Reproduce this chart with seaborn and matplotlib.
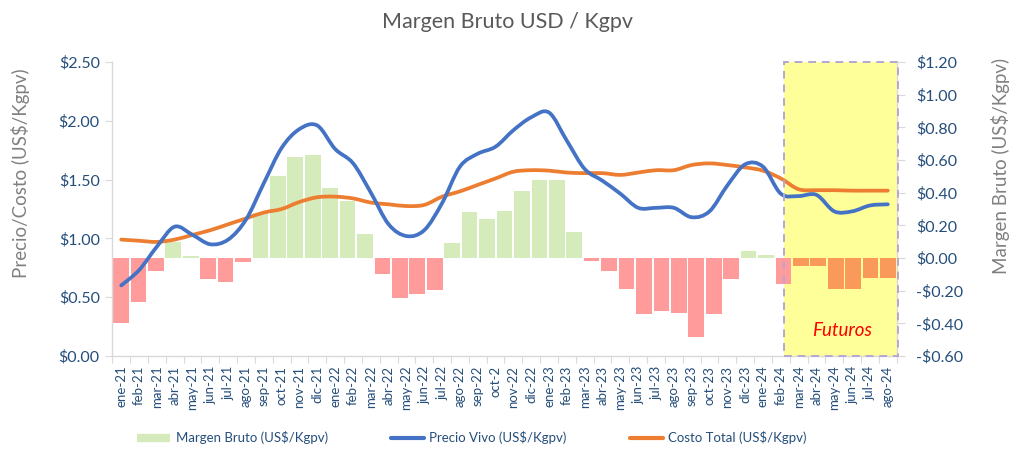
import numpy as np
import pandas as pd
import matplotlib
matplotlib.use("Agg")
import matplotlib.pyplot as plt
from matplotlib.path import Path
from matplotlib.patches import PathPatch, Rectangle
from matplotlib.lines import Line2D
from matplotlib.transforms import blended_transform_factory
import seaborn as sns

# ---------------- data ----------------
months = ["ene-21", "feb-21", "mar-21", "abr-21", "may-21", "jun-21", "jul-21", "ago-21",
          "sep-21", "oct-21", "nov-21", "dic-21", "ene-22", "feb-22", "mar-22", "abr-22",
          "may-22", "jun-22", "jul-22", "ago-22", "sep-22", "oct-2", "nov-22", "dic-22",
          "ene-23", "feb-23", "mar-23", "abr-23", "may-23", "jun-23", "jul-23", "ago-23",
          "sep-23", "oct-23", "nov-23", "dic-23", "ene-24", "feb-24", "mar-24", "abr-24",
          "may-24", "jun-24", "jul-24", "ago-24"]

precio_vivo = [0.60, 0.73, 0.93, 1.10, 1.03, 0.95, 0.99, 1.16, 1.47, 1.77, 1.93, 1.96,
               1.76, 1.64, 1.39, 1.12, 1.02, 1.07, 1.30, 1.61, 1.72, 1.78, 1.92, 2.03,
               2.07, 1.83, 1.59, 1.49, 1.38, 1.26, 1.26, 1.26, 1.18, 1.23, 1.45, 1.63,
               1.61, 1.38, 1.36, 1.37, 1.23, 1.23, 1.28, 1.29]

costo_total = [0.99, 0.98, 0.97, 0.99, 1.03, 1.07, 1.12, 1.17, 1.22, 1.25, 1.31, 1.35,
               1.355, 1.34, 1.305, 1.29, 1.275, 1.285, 1.355, 1.40, 1.455, 1.51, 1.567, 1.58,
               1.576, 1.56, 1.555, 1.555, 1.54, 1.56, 1.58, 1.58, 1.624, 1.638, 1.624, 1.604,
               1.576, 1.51, 1.418, 1.41, 1.41, 1.406, 1.406, 1.406]

margen_bruto = [-0.395, -0.267, -0.08, 0.10, 0.01, -0.13, -0.149, -0.023, 0.274, 0.505,
                0.618, 0.633, 0.43, 0.35, 0.145, -0.097, -0.246, -0.221, -0.198, 0.091,
                0.281, 0.239, 0.289, 0.409, 0.48, 0.48, 0.157, -0.016, -0.078, -0.19,
                -0.345, -0.322, -0.339, -0.482, -0.345, -0.13, 0.045, 0.02, -0.157, -0.052,
                -0.052, -0.19, -0.19, -0.12, -0.12]

first_futures_bar = 39
futures_box = (37.17, 43.55)   # span on the month axis

# ---------------- style ----------------
GREEN = "#D5EBBB"
PINK = "#FF9B9B"
ORANGE_BAR = "#F99A5B"
BLUE = "#4472C4"
ORANGE = "#ED7D31"
TICK_COLOR = "#254E7B"
GRAY_LABEL = "#808080"
SPINE = "#D9D9D9"

sns.set_theme(style="white")
plt.rcParams['font.family'] = ['Lato', 'DejaVu Sans']

fig = plt.figure(figsize=(10.1, 4.5), dpi=100)
pos = [0.1112, 0.2089, 0.8878 - 0.1112, 0.8622 - 0.2089]
ax_bar = fig.add_axes(pos)
ax = fig.add_axes(pos)
ax.set_zorder(ax_bar.get_zorder() + 1)
ax.patch.set_visible(False)

# ---------------- futures box fill (behind bars) ----------------
trans_box = blended_transform_factory(ax.transData, ax.transAxes)
ax_bar.add_patch(Rectangle((futures_box[0], 0), futures_box[1] - futures_box[0], 1,
                           transform=trans_box, facecolor="#FFFF99", edgecolor="none",
                           zorder=0, clip_on=False))

# ---------------- bars ----------------
bar_ids = [f"b{i}" for i in range(len(margen_bruto))]
colors = {}
for i, v in enumerate(margen_bruto):
    if i >= first_futures_bar:
        colors[bar_ids[i]] = ORANGE_BAR
    elif v >= 0:
        colors[bar_ids[i]] = GREEN
    else:
        colors[bar_ids[i]] = PINK
df_bar = pd.DataFrame({"id": bar_ids, "margen": margen_bruto})
sns.barplot(data=df_bar, x="id", y="margen", hue="id", palette=colors, legend=False,
            saturation=1, width=0.9, linewidth=0, ax=ax_bar, zorder=2)
ax_bar.set_xlim(-0.5, len(margen_bruto) - 0.5)
ax_bar.set_ylim(-0.6, 1.2)
ax_bar.set_xticks([])
ax_bar.set_xlabel("")
ax_bar.set_ylabel("")
ax_bar.yaxis.tick_right()
rticks = np.round(np.arange(-0.6, 1.21, 0.2), 2)
ax_bar.set_yticks(rticks)
ax_bar.set_yticklabels([("-$%.2f" % abs(t)) if t < 0 else ("$%.2f" % t) for t in rticks],
                       color=TICK_COLOR, fontsize=11.5)
ax_bar.tick_params(axis="y", which="major", direction="out", length=5.5, width=0.8,
                   color=SPINE, pad=8.5, right=True, left=False)
for s in ["left", "top", "bottom"]:
    ax_bar.spines[s].set_visible(False)
ax_bar.spines["right"].set_color(SPINE)
ax_bar.spines["right"].set_linewidth(1.0)


# ---------------- smoothed lines ----------------
def smooth_path(xs, ys):
    pts = np.column_stack([xs, ys]).astype(float)
    n = len(pts)
    verts = [pts[0]]
    codes = [Path.MOVETO]
    for i in range(n - 1):
        p0 = pts[max(i - 1, 0)]
        p1 = pts[i]
        p2 = pts[i + 1]
        p3 = pts[min(i + 2, n - 1)]
        c1 = p1 + (p2 - p0) / 6.0
        c2 = p2 - (p3 - p1) / 6.0
        verts += [c1, c2, p2]
        codes += [Path.CURVE4] * 3
    return Path(verts, codes)


xpos = np.arange(len(months))
for series, col in [(costo_total, ORANGE), (precio_vivo, BLUE)]:
    ax.add_patch(PathPatch(smooth_path(xpos, series), fill=False, edgecolor=col,
                           linewidth=2.7, capstyle="round", joinstyle="round", zorder=3))

ax.set_xlim(-0.5, len(months) - 0.5)
ax.set_ylim(0, 2.5)
ax.set_xticks(xpos)
ax.set_xticklabels(months, rotation=90, color=TICK_COLOR, fontsize=9.5)
ax.set_xticks(np.arange(-0.5, len(months), 1.0), minor=True)
ax.tick_params(axis="x", which="major", length=0, pad=7)
ax.tick_params(axis="x", which="minor", direction="out", length=5, width=0.8, color=SPINE,
               bottom=True)
lticks = np.arange(0, 2.51, 0.5)
ax.set_yticks(lticks)
ax.set_yticklabels(["$%.2f" % t for t in lticks], color=TICK_COLOR, fontsize=11.5)
ax.tick_params(axis="y", which="major", direction="out", length=5, width=0.8, color=SPINE,
               pad=4, left=True)
for s in ["top", "right"]:
    ax.spines[s].set_visible(False)
for s in ["left", "bottom"]:
    ax.spines[s].set_color(SPINE)
    ax.spines[s].set_linewidth(1.0)

# futures box border (on top) and label
ax.add_patch(Rectangle((futures_box[0], 0), futures_box[1] - futures_box[0], 1,
                       transform=trans_box, fill=False, edgecolor="#B7A6D3",
                       linewidth=1.4, linestyle=(0, (4, 3)), zorder=4, clip_on=False))
ax.text((futures_box[0] + futures_box[1]) / 2 + 0.1, 0.22, "Futuros", color="#FF0000",
        fontsize=13.5, style="italic", ha="center", va="center", zorder=5)

# ---------------- texts ----------------
fig.text(507 / 1010, 1 - 22 / 450, "Margen Bruto USD / Kgpv", ha="center", va="center",
         fontsize=15.5, color="#595959")
fig.text(21 / 1010, 1 - 173 / 450, "Precio/Costo (US$/Kgpv)", ha="center", va="center",
         rotation=90, fontsize=13.5, color=GRAY_LABEL)
fig.text(1000 / 1010, 1 - 166 / 450, "Margen Bruto (US$/Kgpv)", ha="center", va="center",
         rotation=90, fontsize=13.5, color=GRAY_LABEL)

handles = [
    Line2D([], [], color=GREEN, linewidth=6, solid_capstyle="butt"),
    Line2D([], [], color=BLUE, linewidth=3, solid_capstyle="round"),
    Line2D([], [], color=ORANGE, linewidth=3, solid_capstyle="round"),
]
labels = ["Margen Bruto (US$/Kgpv)", "Precio Vivo (US$/Kgpv)", "Costo Total (US$/Kgpv)"]
leg = fig.legend(handles, labels, loc="center", bbox_to_anchor=(472 / 1010, 1 - 438 / 450),
                 ncol=3, frameon=False, fontsize=9.5, handlelength=2.5, handletextpad=0.4,
                 columnspacing=4.8)
for t in leg.get_texts():
    t.set_color(TICK_COLOR)

fig.savefig("out.png", dpi=100)
